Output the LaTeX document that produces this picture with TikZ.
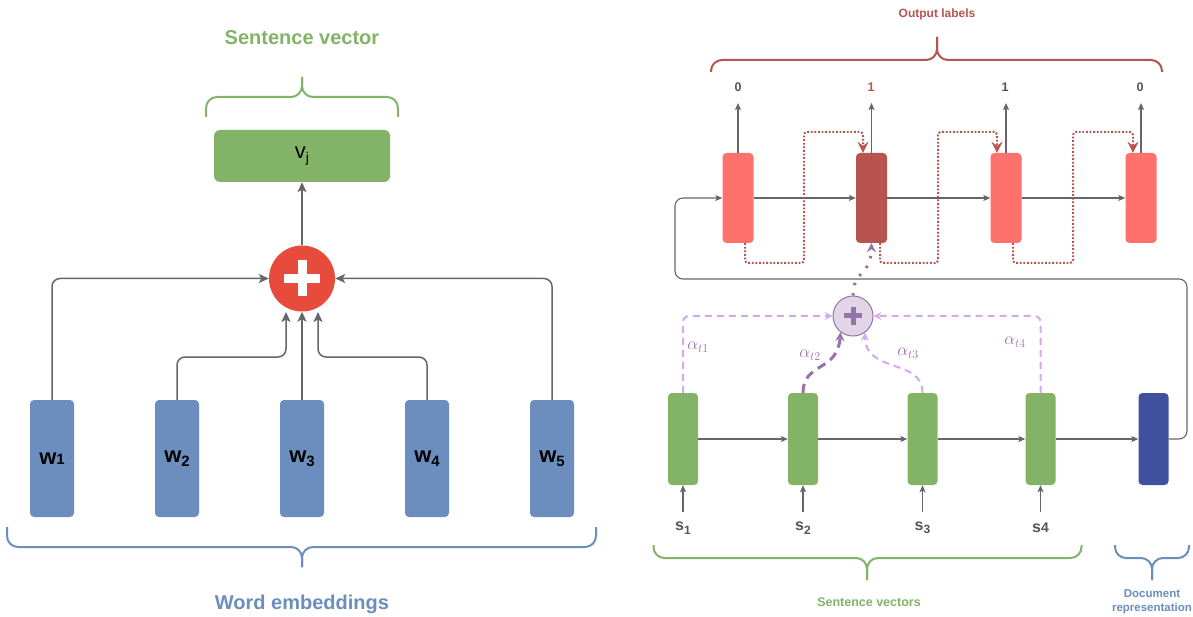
\documentclass[tikz,border=0pt]{standalone}
\usepackage{fontspec}
\setmainfont{Liberation Sans}
\usetikzlibrary{arrows.meta}

\definecolor{gfill}{HTML}{82B366}
\definecolor{bfill}{HTML}{6C8EBF}
\definecolor{rlight}{HTML}{FF716C}
\definecolor{rdark}{HTML}{B85450}
\definecolor{docblue}{HTML}{3F519E}
\definecolor{plusred}{HTML}{E64B3B}
\definecolor{pfill}{HTML}{E1D5E7}
\definecolor{pdark}{HTML}{9673A6}
\definecolor{plight}{HTML}{D6A8F2}
\definecolor{lgray}{HTML}{666666}
\definecolor{tgray}{HTML}{555555}

\newcommand{\fs}[1]{\fontsize{#1}{#1}\selectfont}
% curly brace: style, left x, right x, centre x, end y, bar y, tip y
\newcommand{\curly}[7]{%
  \draw[#1,line width=2pt,rounded corners=11pt] (#2,#5) -- (#2,#6) -- (#4,#6) -- (#4,#7);
  \draw[#1,line width=2pt,rounded corners=11pt] (#3,#5) -- (#3,#6) -- (#4,#6) -- (#4,#7);}

\tikzset{
  wbox/.style={fill=bfill, rounded corners=4pt, minimum width=44pt, minimum height=117pt, inner sep=0pt, font=\bfseries\fs{22}},
  vbox/.style={fill=gfill, rounded corners=6pt, minimum width=176pt, minimum height=52pt, inner sep=0pt, font=\fs{22}},
  sumred/.style={circle, fill=plusred, minimum size=66pt, inner sep=0pt},
  larr/.style={draw=lgray, line width=1.5pt, rounded corners=8pt, -{Stealth[length=10pt,width=9pt,inset=2.5pt]}},
  rbox/.style={fill=rlight, rounded corners=4pt, minimum width=31pt, minimum height=90pt, inner sep=0pt},
  gbox/.style={fill=gfill, rounded corners=4pt, minimum width=30pt, minimum height=92pt, inner sep=0pt},
  rarr/.style={draw=lgray, line width=1.1pt, rounded corners=8pt, -{Stealth[length=7pt,width=6pt,inset=1.5pt]}},
  dotarr/.style={draw=rdark, line width=2pt, dash pattern=on 1.8pt off 1.8pt, rounded corners=3pt, -{Stealth[length=11pt,width=11pt,inset=4pt]}},
  attn/.style={draw=plight, line width=2pt, dash pattern=on 7pt off 5pt, rounded corners=6pt, -{Stealth[length=8pt,width=8pt,inset=3pt]}},
  attnstrong/.style={draw=pdark, line width=3pt, dash pattern=on 9pt off 6pt, -{Stealth[length=9pt,width=9pt,inset=3pt]}},
  psum/.style={circle, fill=pfill, draw=pdark, line width=1pt, minimum size=40pt, inner sep=0pt},
  alab/.style={text=pdark, font=\fs{18}},
  outlab/.style={font=\bfseries\fs{12.5}, text=tgray, inner sep=0pt},
  slab/.style={font=\bfseries\fs{16}, text=tgray, inner sep=0pt},
}

\begin{document}
\begin{tikzpicture}[x=1pt,y=-1pt]
\useasboundingbox (0,0) rectangle (1193,617);
\fill[white] (0,0) rectangle (1193,617);

% ---------------- word embeddings -> sentence vector ----------------
\node[text=gfill, font=\bfseries\fs{20}] (tsv) at (302,38) {Sentence vector};
\curly{gfill}{206}{398}{302}{117}{97}{77}
\node[vbox] (v) at (302,156) {v\raisebox{-4pt}{\fs{14}j}};
\node[sumred] (c) at (302,278.5) {};
\fill[white] ([xshift=-18pt,yshift=-4.5pt]c.center) rectangle ([xshift=18pt,yshift=4.5pt]c.center);
\fill[white] ([xshift=-4.5pt,yshift=-18pt]c.center) rectangle ([xshift=4.5pt,yshift=18pt]c.center);

\node[wbox] (w1) at (52,458.5) {w{\fs{15}1}};
\node[wbox] (w2) at (177,458.5) {w\raisebox{-4pt}{\fs{15}2}};
\node[wbox] (w3) at (302,458.5) {w\raisebox{-4pt}{\fs{15}3}};
\node[wbox] (w4) at (427,458.5) {w\raisebox{-4pt}{\fs{15}4}};
\node[wbox] (w5) at (552,458.5) {w\raisebox{-4pt}{\fs{15}5}};

\coordinate (t2) at (286,312);
\coordinate (t4) at (318,312);
\draw[larr] (c.north) -- (v.south);
\draw[larr] (w1.north) -- (52,278.5) -- (c.west);
\draw[larr] (w5.north) -- (552,278.5) -- (c.east);
\draw[larr] (w2.north) -- (177,357) -- (286,357) -- (t2);
\draw[larr] (w4.north) -- (427,357) -- (318,357) -- (t4);
\draw[larr] (w3.north) -- (c.south);

\curly{bfill}{7}{596}{302}{527}{547}{567}
\node[text=bfill, font=\bfseries\fs{20}] (twe) at (302,604) {Word embeddings};

% ---------------- hierarchical sentence classifier ----------------
\node[text=rdark, font=\bfseries\fs{12}] (tol) at (937,14) {Output labels};
\curly{rdark}{711}{1162}{937}{72}{60}{37}

\node[outlab] (o1) at (738,87) {0};
\node[outlab, text=rdark] (o2) at (871,87) {1};
\node[outlab] (o3) at (1005,87) {1};
\node[outlab] (o4) at (1140,87) {0};
\coordinate (out1) at (738,103);
\coordinate (out2) at (871.5,103);
\coordinate (out3) at (1006,103);
\coordinate (out4) at (1141,103);

\node[rbox] (r1) at (738,198) {};
\node[rbox, fill=rdark] (r2) at (871.5,198) {};
\node[rbox] (r3) at (1006,198) {};
\node[rbox] (r4) at (1141,198) {};

\node[gbox] (g1) at (683,439) {};
\node[gbox] (g2) at (803,439) {};
\node[gbox] (g3) at (922.5,439) {};
\node[gbox] (g4) at (1040.5,439) {};
\node[gbox, fill=docblue] (doc) at (1153.5,439) {};

\node[psum] (p) at (853,316) {};
\fill[pdark] ([xshift=-9pt,yshift=-2.5pt]p.center) rectangle ([xshift=9pt,yshift=2.5pt]p.center);
\fill[pdark] ([xshift=-2.5pt,yshift=-9pt]p.center) rectangle ([xshift=2.5pt,yshift=9pt]p.center);

% recurrent connections
\draw[rarr] (r1.east) -- (r2.west);
\draw[rarr] (r2.east) -- (r3.west);
\draw[rarr] (r3.east) -- (r4.west);
\draw[rarr] (r1.north) -- (out1);
\draw[rarr] (r2.north) -- (out2);
\draw[rarr] (r3.north) -- (out3);
\draw[rarr] (r4.north) -- (out4);

\draw[rarr] (g1.east) -- (g2.west);
\draw[rarr] (g2.east) -- (g3.west);
\draw[rarr] (g3.east) -- (g4.west);
\draw[rarr] (g4.east) -- (doc.west);
\draw[rarr] (doc.east) -- (1187,439) -- (1187,279) -- (675,279) -- (675,198) -- (r1.west);

% previous prediction fed forward
\draw[dotarr] ([xshift=7pt]r1.south) -- (745,263) -- (804,263) -- (804,132) -- (863,132) -- ([xshift=-8.5pt]r2.north);
\draw[dotarr] ([xshift=8.5pt]r2.south) -- (880,263) -- (938,263) -- (938,132) -- (997,132) -- ([xshift=-9pt]r3.north);
\draw[dotarr] ([xshift=7pt]r3.south) -- (1013,263) -- (1073,263) -- (1073,132) -- (1133,132) -- ([xshift=-8pt]r4.north);

% inputs
\node[slab] (s1) at (683,528) {s\raisebox{-3.5pt}{\fs{12}1}};
\node[slab] (s2) at (803,528) {s\raisebox{-3.5pt}{\fs{12}2}};
\node[slab] (s3) at (922.5,528) {s\raisebox{-3.5pt}{\fs{12}3}};
\node[slab] (s4) at (1040.5,528) {s{\fs{14}4}};
\coordinate (in1) at (683,512);
\coordinate (in2) at (803,512);
\coordinate (in3) at (922.5,512);
\coordinate (in4) at (1040.5,512);
\draw[rarr] (in1) -- (g1.south);
\draw[rarr] (in2) -- (g2.south);
\draw[rarr] (in3) -- (g3.south);
\draw[rarr] (in4) -- (g4.south);

% attention
\draw[attn] (g1.north) -- (683,316) -- (p.west);
\draw[attn] (g4.north) -- (1040.5,316) -- (p.east);
\draw[attnstrong] (g2.north) .. controls (803,362) and (838,372) .. (p.232);
\draw[attn] (g3.north) .. controls (922.5,358) and (866,374) .. (p.305);
\draw[draw=pdark, line width=3pt, dash pattern=on 2.5pt off 8pt, -{Stealth[length=9pt,width=9pt,inset=3pt]}] (p.north) .. controls (853,270) and (871,276) .. (r2.south);

\node[alab] (a1) at (698,347) {$\alpha_{t1}$};
\node[alab] (a2) at (810,355) {$\alpha_{t2}$};
\node[alab] (a3) at (908,353) {$\alpha_{t3}$};
\node[alab] (a4) at (1015,342) {$\alpha_{t4}$};

\curly{gfill}{653.5}{1081.5}{867}{545}{558}{580}
\curly{bfill}{1115}{1189}{1152}{545}{558}{580}
\node[text=gfill, font=\bfseries\fs{12.5}] (tsvs) at (869,602) {Sentence vectors};
\node[text=bfill, font=\bfseries\fontsize{11.5}{14}\selectfont, align=center] (tdoc) at (1152,602) {Document\\representation};
\end{tikzpicture}
\end{document}
